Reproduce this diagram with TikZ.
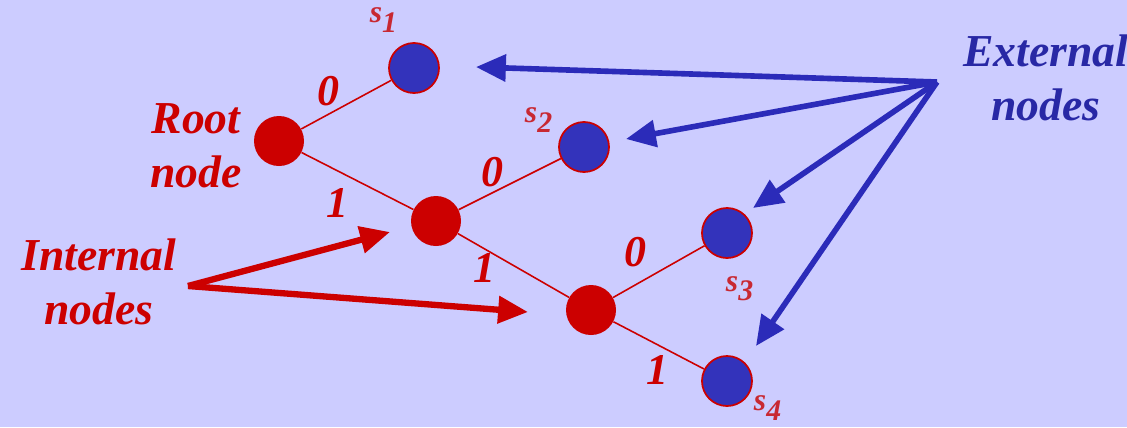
\documentclass[tikz,border=0pt]{standalone}
\usepackage{fontspec}
\setmainfont{Liberation Serif}
\usetikzlibrary{arrows.meta}
\definecolor{bg}{RGB}{204,204,255}
\definecolor{tred}{RGB}{204,0,0}
\definecolor{sred}{RGB}{200,40,50}
\definecolor{tblue}{RGB}{51,51,187}
\definecolor{ablue}{RGB}{43,43,185}
\definecolor{txblue}{RGB}{40,40,165}
\tikzset{
  internal/.style={circle, fill=tred, draw=none, minimum size=50*0.02cm, inner sep=0pt},
  external/.style={circle, fill=tblue, draw=tred, line width=1pt, minimum size=50*0.02cm, inner sep=0pt},
  edge/.style={draw=tred, line width=0.9pt},
  bit/.style={text=tred, font=\fontsize{25}{28}\selectfont\bfseries\itshape, inner sep=0pt},
  slab/.style={text=sred, font=\fontsize{18}{20}\selectfont\bfseries\itshape, inner sep=0pt},
  redtxt/.style={text=tred, font=\fontsize{26}{31}\selectfont\bfseries\itshape, align=center, inner sep=0pt},
  bluetxt/.style={text=txblue, font=\fontsize{26}{31}\selectfont\bfseries\itshape, align=center, inner sep=0pt},
  redarrow/.style={draw=tred, line width=3.6pt, -{Triangle[length=17pt, width=15pt]}},
  bluearrow/.style={draw=ablue, line width=3.2pt, -{Triangle[length=17pt, width=15pt]}},
}
\begin{document}
\begin{tikzpicture}[x=0.02cm, y=-0.02cm]
\fill[bg] (0,0) rectangle (1127,427);
\useasboundingbox (0,0) rectangle (1127,427);
% tree nodes
\node[internal] (root) at (279,141) {};
\node[internal] (i2) at (436,221) {};
\node[internal] (i3) at (591,310) {};
\node[external] (s1) at (414,68) {};
\node[external] (s2) at (584,147) {};
\node[external] (s3) at (727,233) {};
\node[external] (s4) at (727,381) {};
% edges
\draw[edge] (root) -- (s1);
\draw[edge] (root) -- (i2);
\draw[edge] (i2) -- (s2);
\draw[edge] (i2) -- (i3);
\draw[edge] (i3) -- (s3);
\draw[edge] (i3) -- (s4);
% edge labels
\node[bit] (b1) at (328,91) {0};
\node[bit] (b2) at (337,203) {1};
\node[bit] (b3) at (492,172) {0};
\node[bit] (b4) at (484,268) {1};
\node[bit] (b5) at (635,252) {0};
\node[bit] (b6) at (657,370) {1};
% leaf labels
\node[slab] (l1) at (384,20) {s\textsubscript{\fontsize{17}{20}\selectfont 1}};
\node[slab] (l2) at (539,120) {s\textsubscript{\fontsize{17}{20}\selectfont 2}};
\node[slab] (l3) at (740,289) {s\textsubscript{\fontsize{17}{20}\selectfont 3}};
\node[slab] (l4) at (768,408) {s\textsubscript{\fontsize{17}{20}\selectfont 4}};
% text labels
\node[redtxt] (rootlab) at (196,146) {Root\\node};
\node[redtxt] (intlab) at (99,282) {Internal\\nodes};
\node[bluetxt] (extlab) at (1046,78) {External\\nodes};
% arrow hubs
\coordinate (rh) at (188,286);
\coordinate (bh) at (937,82);
\coordinate (rt1) at (390,232);
\coordinate (rt2) at (528,312);
\coordinate (bt1) at (476,67);
\coordinate (bt2) at (626,139);
\coordinate (bt3) at (753,208);
\coordinate (bt4) at (756,346);
\draw[redarrow] (rh) -- (rt1);
\draw[redarrow] (rh) -- (rt2);
\draw[bluearrow] (bh) -- (bt1);
\draw[bluearrow] (bh) -- (bt2);
\draw[bluearrow] (bh) -- (bt3);
\draw[bluearrow] (bh) -- (bt4);
\end{tikzpicture}
\end{document}
